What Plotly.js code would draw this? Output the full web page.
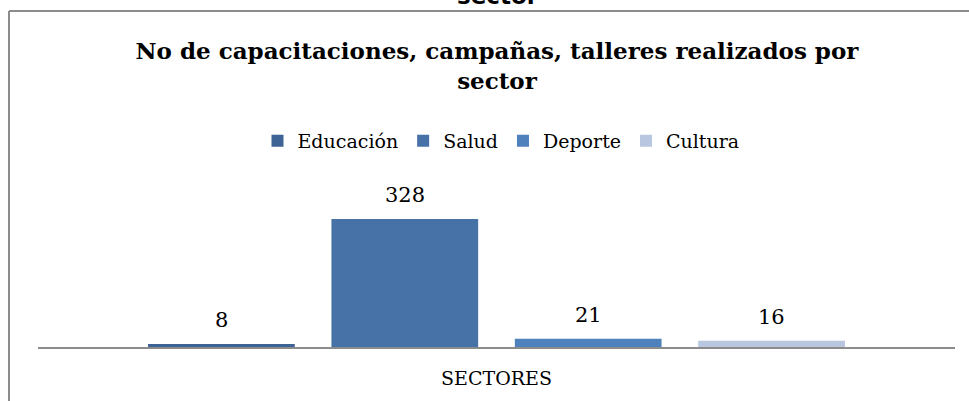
<!DOCTYPE html>
<html>
<head>
<meta charset="utf-8">
<script src="https://cdn.plot.ly/plotly-3.0.1.min.js"></script>
<style>
  html, body { margin: 0; padding: 0; background: #ffffff; }
  #chart { width: 969px; height: 401px; }
</style>
</head>
<body>
<div id="chart"></div>
<script>
// Data
const categories = ['SECTORES'];
const seriesNames = ['Educación', 'Salud', 'Deporte', 'Cultura'];
const seriesValues = [8, 328, 21, 16];
const seriesColors = ['#3E6496', '#4672A7', '#4F81BD', '#B9C6DF'];
const chartTitle = 'No de capacitaciones, campañas, talleres realizados por<br>sector';
const clippedAboveText = 'sector';

const FONT = 'DejaVu Serif, Liberation Serif, serif';

// Layout geometry (pixels)
const W = 969, H = 401;
const M = { l: 38, r: 14, t: 160, b: 54, autoexpand: false };
const plotW = W - M.l - M.r;
const plotH = H - M.t - M.b;
const px2x = px => (px - M.l) / plotW;
const py2y = py => (H - M.b - py) / plotH;

const bargap = 0.2;
const nSeries = seriesNames.length;
const slot = (1 - bargap) / nSeries;

const traces = seriesNames.map((name, i) => ({
  type: 'bar',
  name: name,
  x: categories,
  y: [seriesValues[i]],
  marker: { color: seriesColors[i] },
  hoverinfo: 'none'
}));

const labelAnnotations = seriesNames.map((name, i) => ({
  xref: 'x', yref: 'y',
  x: 0 + (i - (nSeries - 1) / 2) * slot,
  y: seriesValues[i],
  text: String(seriesValues[i]),
  showarrow: false,
  yanchor: 'bottom',
  yshift: 10,
  font: { family: FONT, size: 21, color: '#000000' }
}));

const borderColor = '#8c8c8c';
const shapes = [
  { type: 'line', xref: 'paper', yref: 'paper',
    x0: px2x(9), x1: px2x(9), y0: py2y(11), y1: py2y(H + 5),
    line: { color: borderColor, width: 2 } },
  { type: 'line', xref: 'paper', yref: 'paper',
    x0: px2x(9), x1: px2x(W + 5), y0: py2y(11), y1: py2y(11),
    line: { color: borderColor, width: 2 } }
];

const layout = {
  width: W, height: H,
  margin: M,
  paper_bgcolor: '#ffffff',
  plot_bgcolor: '#ffffff',
  font: { family: FONT, color: '#000000' },
  title: {
    text: chartTitle,
    font: { family: FONT, size: 23, color: '#000000', weight: 'bold' },
    x: px2x(497), xref: 'paper', xanchor: 'center',
    y: 1 - 59 / H, yref: 'container', yanchor: 'top',
    automargin: false
  },
  barmode: 'group',
  bargap: bargap,
  bargroupgap: 0.2,
  showlegend: true,
  legend: {
    orientation: 'h',
    x: px2x(501), xref: 'paper', xanchor: 'center',
    y: 1 - 122 / H, yref: 'container', yanchor: 'top',
    font: { family: FONT, size: 19, color: '#000000' },
    traceorder: 'normal'
  },
  xaxis: {
    type: 'category',
    showline: true, linecolor: '#8c8c8c', linewidth: 2,
    ticks: 'outside', ticklen: 13, tickcolor: 'rgba(0,0,0,0)',
    tickfont: { family: FONT, size: 19, color: '#000000' },
    showgrid: false, zeroline: false, fixedrange: true
  },
  yaxis: {
    range: [0, 479],
    visible: false, showgrid: false, zeroline: false, fixedrange: true
  },
  shapes: shapes,
  annotations: labelAnnotations.concat([{
    xref: 'paper', yref: 'paper',
    x: px2x(498), y: py2y(11),
    xanchor: 'center', yanchor: 'bottom',
    text: clippedAboveText, showarrow: false,
    font: { family: 'DejaVu Sans, sans-serif', size: 23, color: '#000000', weight: 'bold' }
  }])
};

Plotly.newPlot('chart', traces, layout, { displayModeBar: false, staticPlot: true });
</script>
</body>
</html>
